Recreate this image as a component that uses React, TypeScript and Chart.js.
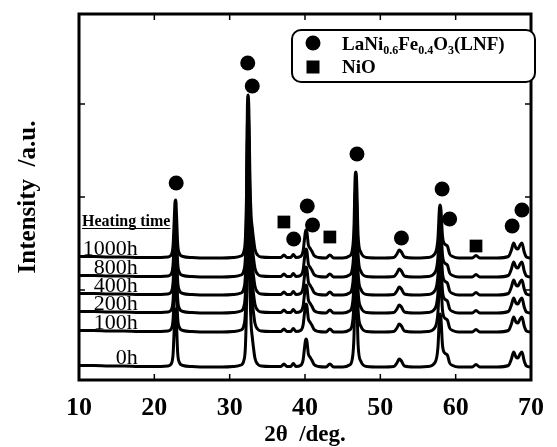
import { useEffect, useRef } from 'react';
import { Chart, registerables } from 'chart.js';
Chart.register(...registerables);

// 2θ positions (deg) of the hand-read pattern
const twoTheta = [10, 12, 14, 16, 18, 20, 21.8, 22.3, 22.5, 22.65, 22.75, 22.85, 22.95, 23.1, 23.3, 23.8, 25, 27, 29, 30.5, 31.5, 31.9, 32.1, 32.25, 32.35, 32.45, 32.55, 32.7, 32.85, 33.0, 33.15, 33.35, 33.7, 34.2, 35.5, 36.8, 37.2, 37.6, 38.1, 38.45, 38.8, 39.4, 39.75, 39.95, 40.1, 40.25, 40.45, 40.65, 40.9, 41.2, 41.8, 42.8, 43.3, 43.8, 45.0, 45.9, 46.3, 46.5, 46.65, 46.75, 46.85, 47.05, 47.4, 48.2, 50, 51.8, 52.2, 52.5, 52.8, 53.2, 54.5, 56.3, 57.3, 57.65, 57.85, 57.95, 58.05, 58.25, 58.55, 58.9, 59.2, 59.6, 60.4, 62.2, 62.7, 63.2, 65.5, 67.0, 67.4, 67.7, 68.0, 68.25, 68.55, 68.8, 69.1, 69.4, 70];
// intensity above each pattern's baseline (a.u.)
const profile = [1.5, 1.5, 1, 1, 0.5, 0.5, 1, 4, 14, 40, 56, 58, 42, 14, 5, 1.5, 0.5, 0, 0, 0.5, 2, 7, 22, 70, 150, 163, 148, 75, 42, 30, 20, 9, 3, 1, 0.5, 0.5, 3, 0.5, 0.5, 3.5, 0.5, 1.5, 7, 20, 28, 26, 13, 10, 7, 2.5, 0.5, 0, 3, 0, 0, 2, 9, 30, 80, 86, 78, 22, 6, 0.5, 0, 0.5, 4, 8, 6, 1, 0, 0.5, 5, 20, 50, 53, 48, 22, 14, 12, 4, 1.5, 0, 0, 2.5, 0, 0, 1.5, 8, 15, 10, 9, 13, 15, 6, 1, 0];

const heatingTimes = ['1000h', '800h', '400h', '200h', '100h', '0h'];
const offsets = [122, 103, 85, 67, 48, 13];

// LaNi0.6Fe0.4O3 markers
const lnfX = [22.9, 32.4, 33.0, 38.5, 40.3, 41.0, 46.9, 52.8, 58.2, 59.2, 67.5, 68.8];
const lnfY = [197, 317, 294, 141, 174, 155, 226, 142, 191, 161, 154, 170];
// NiO markers
const nioX = [37.2, 43.3, 62.7];
const nioY = [158, 143, 134];

const xTickMarks = [20, 30, 40, 50, 60];
const yTickMarks = [90, 183, 276];

const SERIF = '"Liberation Serif", "Times New Roman", serif';

const decor = {
  id: 'decor',
  afterDraw(chart: any) {
    const { ctx, chartArea: a, scales } = chart;
    const x = scales.x;
    const y = scales.y;
    ctx.save();
    ctx.strokeStyle = '#000';
    ctx.fillStyle = '#000';
    // frame
    ctx.lineWidth = 3;
    ctx.strokeRect(a.left, a.top, a.right - a.left, a.bottom - a.top);
    // inward ticks
    ctx.lineWidth = 1.5;
    const seg = (x1: number, y1: number, x2: number, y2: number) => {
      ctx.beginPath(); ctx.moveTo(x1, y1); ctx.lineTo(x2, y2); ctx.stroke();
    };
    for (const v of xTickMarks) {
      const px = x.getPixelForValue(v);
      seg(px, a.bottom, px, a.bottom - 6);
      seg(px, a.top, px, a.top + 6);
    }
    for (const v of yTickMarks) {
      const py = y.getPixelForValue(v);
      seg(a.left, py, a.left + 6, py);
      seg(a.right, py, a.right - 6, py);
    }
    // heating time labels
    ctx.textBaseline = 'alphabetic';
    ctx.font = `bold 16px ${SERIF}`;
    ctx.textAlign = 'left';
    const hx = x.getPixelForValue(10.4);
    const hy = y.getPixelForValue(154);
    ctx.fillText('Heating time', hx, hy);
    const hw = ctx.measureText('Heating time').width;
    ctx.lineWidth = 1;
    seg(hx, hy + 2.5, hx + hw, hy + 2.5);
    ctx.font = `22px ${SERIF}`;
    ctx.textAlign = 'right';
    const lx = x.getPixelForValue(17.8);
    heatingTimes.forEach((t, i) => {
      ctx.fillText(t, lx, y.getPixelForValue(offsets[i]) - 3);
    });
    // legend
    const bx = 292, by = 30, bw = 243, bh = 52, r = 9;
    ctx.lineWidth = 2;
    ctx.beginPath();
    ctx.moveTo(bx + r, by);
    ctx.arcTo(bx + bw, by, bx + bw, by + bh, r);
    ctx.arcTo(bx + bw, by + bh, bx, by + bh, r);
    ctx.arcTo(bx, by + bh, bx, by, r);
    ctx.arcTo(bx, by, bx + bw, by, r);
    ctx.closePath();
    ctx.fillStyle = '#fff';
    ctx.fill();
    ctx.stroke();
    ctx.fillStyle = '#000';
    ctx.beginPath(); ctx.arc(313, 43, 7.5, 0, Math.PI * 2); ctx.fill();
    ctx.fillRect(313 - 6.5, 67 - 6.5, 13, 13);
    ctx.textAlign = 'left';
    const runs: [string, boolean][] = [['LaNi', false], ['0.6', true], ['Fe', false], ['0.4', true], ['O', false], ['3', true], ['(LNF)', false]];
    let tx = 342;
    for (const [s, sub] of runs) {
      ctx.font = sub ? `bold 12px ${SERIF}` : `bold 19px ${SERIF}`;
      ctx.fillText(s, tx, sub ? 54 : 50);
      tx += ctx.measureText(s).width;
    }
    ctx.font = `bold 19px ${SERIF}`;
    ctx.fillText('NiO', 342, 73);
    ctx.restore();
  },
};

export default function App() {
  const ref = useRef<HTMLCanvasElement>(null);
  useEffect(() => {
    document.body.style.margin = '0';
    const traces = heatingTimes.map((t, k) => ({
      label: t,
      data: twoTheta.map((tt, i) => ({ x: tt, y: offsets[k] + profile[i] })),
      showLine: true,
      borderColor: '#000',
      borderWidth: 3,
      pointRadius: 0,
      cubicInterpolationMode: 'monotone' as const,
      order: 2,
    }));
    const chart = new Chart(ref.current!, {
      type: 'scatter',
      data: {
        datasets: [
          ...traces,
          {
            label: 'LaNi0.6Fe0.4O3(LNF)',
            data: lnfX.map((v, i) => ({ x: v, y: lnfY[i] })),
            pointStyle: 'circle',
            pointRadius: 7.5,
            backgroundColor: '#000',
            borderWidth: 0,
            order: 1,
          },
          {
            label: 'NiO',
            data: nioX.map((v, i) => ({ x: v, y: nioY[i] })),
            pointStyle: 'rect',
            pointRadius: 9,
            backgroundColor: '#000',
            borderWidth: 0,
            order: 1,
          },
        ] as any,
      },
      options: {
        animation: false,
        responsive: false,
        devicePixelRatio: 1,
        layout: { padding: { left: 14, top: 14, right: 15, bottom: 0 } },
        plugins: { legend: { display: false }, tooltip: { enabled: false } },
        scales: {
          x: {
            type: 'linear',
            min: 10,
            max: 70,
            afterFit: (s: any) => { s.height = 67; },
            grid: { display: false, drawTicks: false },
            border: { display: false },
            ticks: {
              stepSize: 10,
              autoSkip: false,
              maxRotation: 0,
              padding: 13,
              color: '#000',
              font: { family: SERIF, size: 26, weight: 'bold' },
            },
            title: {
              display: true,
              text: '2θ  /deg.',
              color: '#000',
              padding: 0,
              font: { family: SERIF, size: 23, weight: 'bold', lineHeight: 1 },
            },
          },
          y: {
            type: 'linear',
            min: 0,
            max: 366,
            afterFit: (s: any) => { s.width = 65; },
            grid: { display: false, drawTicks: false },
            border: { display: false },
            ticks: { display: false },
            title: {
              display: true,
              text: 'Intensity  /a.u.',
              color: '#000',
              padding: 0,
              font: { family: SERIF, size: 25, weight: 'bold' },
            },
          },
        },
      },
      plugins: [decor],
    });
    return () => chart.destroy();
  }, []);
  return <canvas ref={ref} width={557} height={447} style={{ display: 'block', width: 557, height: 447 }} />;
}
